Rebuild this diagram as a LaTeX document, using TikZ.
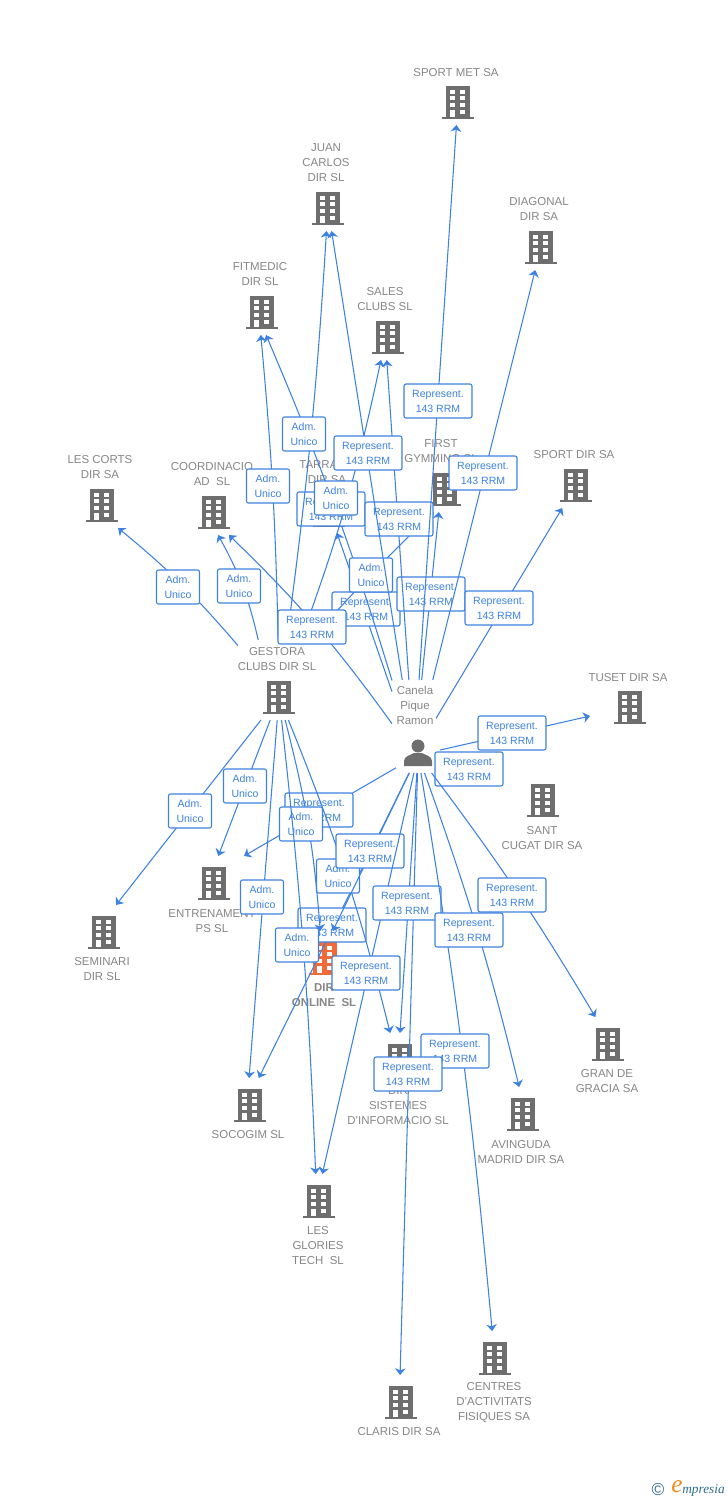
\documentclass[tikz,border=0pt]{standalone}
\usepackage{fontspec}
\setmainfont{Liberation Sans}
\newfontfamily\logofont{Liberation Serif}
\usetikzlibrary{arrows.meta}
\definecolor{linkblue}{HTML}{3D82E0}
\definecolor{firmgray}{HTML}{6E6E6E}
\definecolor{labelgray}{HTML}{868686}
\definecolor{hotorange}{HTML}{F26A38}
\definecolor{logoteal}{HTML}{2F6F8C}
\definecolor{logoorange}{HTML}{F28A1E}
\newcommand{\firmicon}[1]{
  \begin{scope}[shift={(path picture bounding box.center)}]
    \fill[#1] (-12,-16) rectangle (12,15);
    \fill[#1] (-16,15) rectangle (16,17);
    \foreach \row in {-12,-6,1} {
      \fill[white] (-8,\row) rectangle (-3,\row+4);
      \fill[white] (2,\row) rectangle (7,\row+4);
    }
    \fill[white] (-8,8) rectangle (-3,15);
    \fill[white] (2,8) rectangle (7,12);
  \end{scope}
}
\tikzset{
  firm/.style={minimum width=60pt,minimum height=34.5pt,inner sep=0,outer sep=0,path picture={\firmicon{firmgray}}},
  firmb/.style={minimum width=60pt,minimum height=40.5pt,inner sep=0,outer sep=0,path picture={\firmicon{firmgray}}},
  firmhot/.style={minimum width=60pt,minimum height=40.5pt,inner sep=0,outer sep=0,path picture={\firmicon{hotorange}}},
  person/.style={minimum width=33pt,minimum height=27pt,inner sep=0,outer sep=0,path picture={
    \begin{scope}[shift={(path picture bounding box.center)}]
      \fill[firmgray] (0,-9) circle (6.5);
      \fill[firmgray] (-14,11) -- (-14,6) .. controls (-14,1) and (-7,0) .. (-4,-2) -- (4,-2) .. controls (7,0) and (14,1) .. (14,6) -- (14,11) -- cycle;
    \end{scope}}},
  hub/.style={inner sep=0,outer sep=0},
  lbl/.style={align=center,text=labelgray,inner sep=0,yshift=-.75pt,font=\fontsize{8.6}{11.25}\selectfont},
  link/.style={draw=linkblue,line width=.8pt,-{Stealth[length=5pt,width=8pt,inset=1.5pt]}},
  boxrep/.style={draw=linkblue,fill=white,line width=.8pt,rounded corners=1.5pt,align=center,text=linkblue,inner sep=0,minimum width=51pt,minimum height=25.5pt,font=\fontsize{7.9}{11.25}\selectfont},
  boxadm/.style={boxrep,minimum width=32.25pt}
}
\begin{document}
\begin{tikzpicture}[x=.75pt,y=-.75pt]
      \useasboundingbox (0,0) rectangle (728,1500);
      \node (sportmet)[firm] at (458,102){};
      \node (juancarlos)[firm] at (328,208){};
      \node (diagonal)[firm] at (541,247){};
      \node (fitmedic)[firm] at (262,312){};
      \node (salesclubs)[firm] at (388,337){};
      \node (lescorts)[firm] at (102,505){};
      \node (coordinacio)[firm] at (214,512){};
      \node (tarraco)[firm] at (329,510){};
      \node (firstgym)[firm] at (445,489){};
      \node (sportdir)[firm] at (576,485){};
      \node (tuset)[firm] at (630,707){};
      \node (gestora)[firm] at (279,697){};
      \node (canela)[person] at (418,755){};
      \node (santcugat)[firmb] at (543,800){};
      \node (entrenament)[firmb] at (214,883){};
      \node (seminari)[firmb] at (104,932){};
      \node (dironline)[firmhot] at (325,958){};
      \node (socogim)[firmb] at (250,1105){};
      \node (glories)[firmb] at (319,1201){};
      \node (sistemes)[firmb] at (400,1060){};
      \node (avinguda)[firmb] at (523,1114){};
      \node (gracia)[firmb] at (608,1044){};
      \node (centres)[firmb] at (495,1358){};
      \node (claris)[firmb] at (401,1402){};
      \node (gestoraup)[hub,minimum width=61.5pt,minimum height=85.5pt] at (279,697){};
      \node (canelaup)[hub,minimum width=33pt,minimum height=112.5pt] at (414,755){};
      \node (lblsportmet)[lbl] at (456,72){SPORT MET SA};
      \node (lbljuan)[lbl] at (326,162){JUAN\\CARLOS\\DIR SL};
      \node (lbldiagonal)[lbl] at (539,208.5){DIAGONAL\\DIR SA};
      \node (lblfitmedic)[lbl] at (260,273.5){FITMEDIC\\DIR SL};
      \node (lblsales)[lbl] at (385,298.5){SALES\\CLUBS SL};
      \node (lbllescorts)[lbl] at (100,466.5){LES CORTS\\DIR SA};
      \node (lblcoord)[lbl] at (212,473.5){COORDINACIO\\AD~~SL};
      \node (lbltarraco)[lbl] at (327,471.5){TARRACO\\DIR SA};
      \node (lblfirst)[lbl] at (441,450.5){FIRST\\GYMMING SL};
      \node (lblsportdir)[lbl] at (574,454){SPORT DIR SA};
      \node (lbltuset)[lbl] at (628,677){TUSET DIR SA};
      \node (lblgestora)[lbl] at (277,658.5){GESTORA\\CLUBS DIR SL};
      \node (lblcanela)[lbl] at (415,704){Canela\\Pique\\Ramon};
      \node (lblsant)[lbl] at (542,837.5){SANT\\CUGAT DIR SA};
      \node (lblentren)[lbl] at (212,920.5){ENTRENAMENT\\PS SL};
      \node (lblseminari)[lbl] at (102,968.5){SEMINARI\\DIR SL};
      \node (lblonline)[lbl,font=\fontsize{8.6}{11.25}\selectfont\bfseries] at (324,994.5){DIR\\ONLINE~~SL};
      \node (lblsocogim)[lbl] at (248,1134){SOCOGIM SL};
      \node (lblglories)[lbl] at (318,1245){LES\\GLORIES\\TECH~~SL};
      \node (lblsistemes)[lbl] at (398,1105){DIR\\SISTEMES\\D'INFORMACIO SL};
      \node (lblavinguda)[lbl] at (521,1151.5){AVINGUDA\\MADRID DIR SA};
      \node (lblgracia)[lbl] at (607,1080.5){GRAN DE\\GRACIA SA};
      \node (lblcentres)[lbl] at (494,1402){CENTRES\\D'ACTIVITATS\\FISIQUES SA};
      \node (lblclaris)[lbl] at (399,1431){CLARIS DIR SA};
      \draw [link](canelaup)to(tarraco);
      \node (reptarraco)[boxrep] at (366,609){Represent.\\143 RRM};
      \draw [link,bend right=3](canelaup)to(fitmedic.-80);
      \node (repfitmedic)[boxrep] at (331,509){Represent.\\143 RRM};
      \draw [link](canelaup)to(firstgym.-105);
      \node (repfirst)[boxrep] at (431,594){Represent.\\143 RRM};
      \draw [link,bend left=2](gestoraup.61)to(firstgym.-116);
      \node (admfirst)[boxadm] at (371,575){Adm.\\Unico};
      \draw [link](canelaup)to(salesclubs.-93);
      \node (repsales)[boxrep] at (399,519){Represent.\\143 RRM};
      \draw [link,bend right=5](gestoraup)to(lescorts.-55);
      \node (admlescorts)[boxadm] at (178,587){Adm.\\Unico};
      \draw [link,bend right=8](gestoraup.110)to(coordinacio.-80);
      \node (admcoord)[boxadm] at (239,586){Adm.\\Unico};
      \draw [link,bend right=2](gestoraup)to(fitmedic.-93);
      \node (admfitmedic)[boxadm] at (268,486){Adm.\\Unico};
      \draw [link,bend right=2](gestoraup)to(juancarlos);
      \node (admjuan)[boxadm] at (304,434){Adm.\\Unico};
      \draw [link,bend right=4](gestoraup)to(salesclubs.-107);
      \node (admsales)[boxadm] at (336,498){Adm.\\Unico};
      \draw [link,bend right=5](canelaup)to(coordinacio.-57);
      \node (repcoord)[boxrep] at (312,627){Represent.\\143 RRM};
      \draw [link](canelaup)to(juancarlos);
      \node (repjuan)[boxrep] at (368,453){Represent.\\143 RRM};
      \draw [link](canelaup)to(sportmet);
      \node (repsportmet)[boxrep] at (438,401){Represent.\\143 RRM};
      \draw [link](canelaup)to(diagonal);
      \node (repdiagonal)[boxrep] at (483,473){Represent.\\143 RRM};
      \draw [link](canelaup)to(sportdir);
      \node (repsportdir)[boxrep] at (499,608){Represent.\\143 RRM};
      \draw [link](canela)to(tuset);
      \node (reptuset)[boxrep] at (512,733){Represent.\\143 RRM};
      \node (repsant)[boxrep] at (469,769){Represent.\\143 RRM};
      \draw [link](gestora)to(seminari.66);
      \node (admseminari)[boxadm] at (190,811){Adm.\\Unico};
      \draw [link](gestora)to(entrenament.81);
      \node (admentren)[boxadm] at (245,786){Adm.\\Unico};
      \draw [link](canela)to(entrenament.42);
      \node (repentren)[boxrep] at (319,810){Represent.\\143 RRM};
      \draw [link](canela)to(socogim.72);
      \node (repsocogim)[boxrep] at (332,925){Represent.\\143 RRM};
      \draw [link,bend left=4](gestora)to(sistemes.110);
      \node (admsistemes)[boxadm] at (338,876){Adm.\\Unico};
      \draw [link](canela)to(dironline.74);
      \node (reponline)[boxrep] at (370,851){Represent.\\143 RRM};
      \draw [link,bend left=5](gestora)to(dironline.100);
      \node (admonline)[boxadm] at (301,824){Adm.\\Unico};
      \draw [link,bend left=2](gestora)to(glories.97);
      \node (admglories)[boxadm] at (297,945){Adm.\\Unico};
      \draw [link](gestora)to(socogim.92);
      \node (admsocogim)[boxadm] at (262,897){Adm.\\Unico};
      \draw [link](canela)to(glories.83);
      \node (repglories)[boxrep] at (366,973){Represent.\\143 RRM};
      \draw [link](canela)to(claris.92);
      \draw [link](canela)to(sistemes.90);
      \node (repsistemes)[boxrep] at (407,903){Represent.\\143 RRM};
      \draw [link,bend left=2](canela)to(centres.96);
      \node (repcentres)[boxrep] at (455,1051){Represent.\\143 RRM};
      \node (repclaris)[boxrep] at (408,1074){Represent.\\143 RRM};
      \draw [link,bend left=3](canela)to(avinguda.98);
      \node (repavinguda)[boxrep] at (469,930){Represent.\\143 RRM};
      \draw [link,bend left=3](canela)to(gracia.115);
      \node (repgracia)[boxrep] at (512,895){Represent.\\143 RRM};
      \node (logoc)[inner sep=0,text=logoteal,font=\fontsize{13}{13}\selectfont] at (658,1489){©};
      \node (logoe)[inner sep=0,text=logoorange,font=\logofont\fontsize{19}{19}\selectfont\itshape] at (677,1487){e};
      \node (logotext)[inner sep=0,text=logoteal,font=\logofont\fontsize{10}{10}\selectfont\itshape,anchor=west] at (682,1490){mpresia};
    \end{tikzpicture}
\end{document}
